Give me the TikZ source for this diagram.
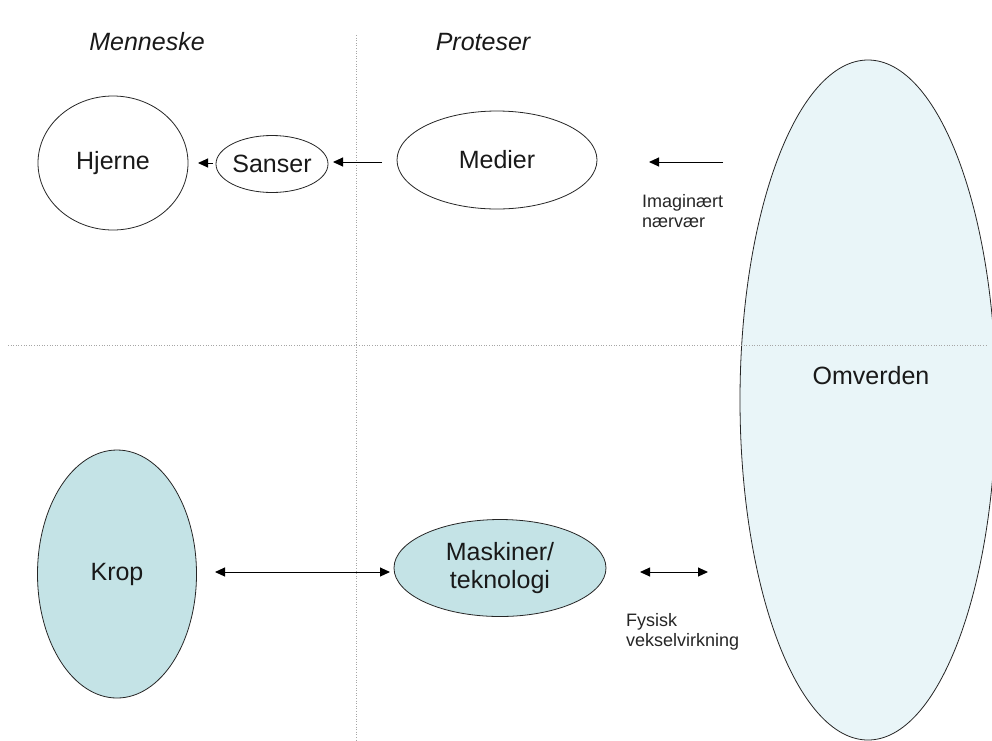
\documentclass[tikz,border=0pt]{standalone}
\usepackage{fontspec}
\setmainfont{Liberation Sans}
\usetikzlibrary{arrows.meta,shapes.geometric}
\definecolor{tealfill}{HTML}{C4E3E6}
\definecolor{palefill}{HTML}{E9F5F8}
\tikzset{
  shp/.style={draw=black!85, line width=0.8pt, ellipse, inner sep=0pt, font=\fontsize{25}{28}\selectfont, text=black!90},
  arr/.style={-{Triangle[length=10pt,width=9pt]}, line width=1pt},
  darr/.style={{Triangle[length=10pt,width=9pt]}-{Triangle[length=10pt,width=9pt]}, line width=1pt},
  guide/.style={gray!70, dotted, line width=0.6pt},
  small/.style={font=\fontsize{18}{20}\selectfont, align=left, anchor=north west, inner sep=0pt, text=black!85},
  head/.style={font=\fontsize{25}{28}\selectfont\itshape, text=black!90}
}
\begin{document}
\begin{tikzpicture}[x=1pt,y=-1pt]
\useasboundingbox[fill=white] (0,0) rectangle (992,740);
% guide lines
\coordinate (vt) at (356,35);
\coordinate (vb) at (356,740);
\coordinate (hl) at (8,345);
\coordinate (hr) at (988,345);
\draw[guide] (vt) -- (vb);
% Omverden
\node[shp, fill=palefill, minimum width=256pt, minimum height=680pt] (omv) at (868,400) {};
\node[font=\fontsize{25}{28}\selectfont, text=black!90] (omvt) at (871,376) {Omverden};
\draw[guide] (hl) -- (hr);
% headers
\node[head] (men) at (147,42) {Menneske};
\node[head] (pro) at (483,42) {Proteser};
% top row
\node[shp, minimum width=150pt, minimum height=134pt] (hj) at (113,163) {Hjerne};
\node[shp, minimum width=101pt, minimum height=57pt] (sa) at (272,164) {Sanser};
\node[shp, minimum width=200pt, minimum height=98pt] (me) at (497,160) {Medier};
% bottom row
\node[shp, fill=tealfill, minimum width=159pt, minimum height=248pt] (kr) at (117,574) {Krop};
\node[shp, fill=tealfill, minimum width=212pt, minimum height=97pt, align=center] (ma) at (500,568) {Maskiner/\\teknologi};
% arrows
\coordinate (a1s) at (213,163); \coordinate (a1e) at (198,163);
\draw[arr] (a1s) -- (a1e);
\coordinate (a2s) at (382,162); \coordinate (a2e) at (333,162);
\draw[arr] (a2s) -- (a2e);
\coordinate (a3s) at (723,162); \coordinate (a3e) at (649,162);
\draw[arr] (a3s) -- (a3e);
\coordinate (b1s) at (215,572); \coordinate (b1e) at (390,572);
\draw[darr] (b1s) -- (b1e);
\coordinate (b2s) at (640,572); \coordinate (b2e) at (708,572);
\draw[darr] (b2s) -- (b2e);
% labels
\node[small] (im) at (642,194) {Imaginært\\nærvær};
\node[small] (fy) at (626,613) {Fysisk\\vekselvirkning};
\end{tikzpicture}
\end{document}
